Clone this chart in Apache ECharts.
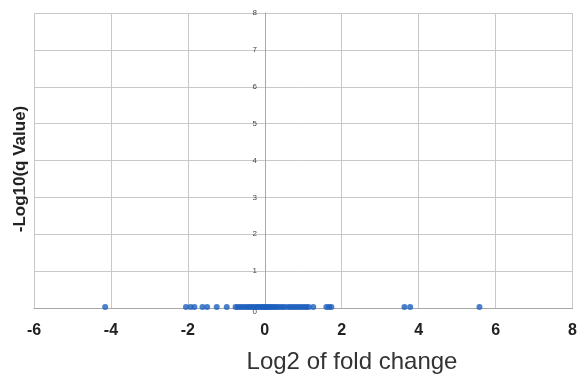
<!DOCTYPE html>
<html>
<head>
<meta charset="utf-8">
<script src="https://cdn.jsdelivr.net/npm/echarts@6/dist/echarts.min.js"></script>
<style>
  html, body { margin: 0; padding: 0; background: #fff; }
  #chart { width: 580px; height: 376px; }
</style>
</head>
<body>
<div id="chart"></div>
<script>
// log2 fold change for each gene
const foldChange = [
  -4.15, -2.05, -1.93, -1.83, -1.62, -1.5, -1.25, -0.99,
  -0.76, -0.7, -0.64, -0.58, -0.52, -0.46, -0.41, -0.36, -0.31, -0.26,
  -0.21, -0.17, -0.12, -0.08, -0.04, 0.0, 0.03, 0.07, 0.11, 0.15, 0.19,
  0.24, 0.29, 0.34, 0.4, 0.46, 0.52, 0.6, 0.66, 0.72, 0.78, 0.84, 0.9,
  0.96, 1.02, 1.08, 1.14, 1.26, 1.6, 1.67, 1.73, 3.63, 3.78, 5.58
];
// -log10(q) for each gene, all tiny
const qScore = foldChange.map(() => 0.03);
const xTicks = [-6, -4, -2, 0, 2, 4, 6, 8];
const yTicks = [0, 1, 2, 3, 4, 5, 6, 7, 8];

const font = 'Liberation Sans, Arial, sans-serif';
const chart = echarts.init(document.getElementById('chart'));
chart.setOption({
  animation: false,
  textStyle: { fontFamily: font },
  grid: { left: 34, right: 7, top: 13, bottom: 68 },
  xAxis: {
    type: 'value',
    min: xTicks[0],
    max: xTicks[xTicks.length - 1],
    interval: 2,
    axisLine: { show: true, lineStyle: { color: '#a8a8a8', width: 1 } },
    axisTick: { show: false },
    splitLine: { show: true, lineStyle: { color: '#c8c8c8', width: 1 } },
    axisLabel: { fontSize: 16, fontWeight: 'bold', color: '#222', margin: 15 }
  },
  yAxis: {
    type: 'value',
    position: 'left',
    offset: -231, // sits on x = 0
    min: yTicks[0],
    max: yTicks[yTicks.length - 1],
    interval: 1,
    axisLine: { show: true, onZero: false, lineStyle: { color: '#a8a8a8', width: 1 } },
    axisTick: { show: false },
    splitLine: { show: true, lineStyle: { color: '#c8c8c8', width: 1 } },
    axisLabel: {
      fontSize: 8, color: '#444', margin: 8, showMinLabel: true, hideOverlap: false,
      formatter: v => v === 0 ? '{low|0}' : String(v),
      rich: { low: { fontSize: 8, color: '#444', padding: [7, 0, 0, 0] } }
    }
  },
  graphic: [
    {
      type: 'text',
      x: 352, y: 362,
      style: {
        text: 'Log2 of fold change', fontSize: 24, fill: '#333', fontFamily: font,
        align: 'center', verticalAlign: 'middle'
      }
    },
    {
      type: 'text',
      x: 20, y: 169,
      rotation: Math.PI / 2,
      style: {
        text: '-Log10(q Value)', fontSize: 17, fontWeight: 'bold', fill: '#222',
        align: 'center', verticalAlign: 'middle', fontFamily: font
      }
    }
  ],
  series: [{
    type: 'scatter',
    symbolSize: 6,
    itemStyle: { color: '#1d5fbd' },
    data: foldChange.map((v, i) => [v, qScore[i]])
  }]
});
</script>
</body>
</html>
